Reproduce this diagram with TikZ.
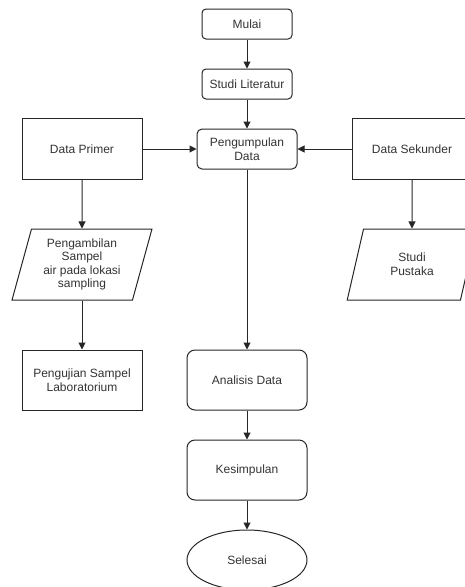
\documentclass[tikz,border=0pt]{standalone}
\usepackage{fontspec}
\setmainfont{Liberation Sans}
\usetikzlibrary{arrows.meta,shapes.geometric}
\begin{document}
\begin{tikzpicture}[x=1pt,y=-1pt,
  every node/.style={font=\fontsize{12}{14.4}\selectfont, text=black!80, align=center, draw=black!85, line width=1pt, inner sep=2pt},
  smallbox/.style={rounded corners=4pt, minimum width=90pt, minimum height=30pt},
  bigbox/.style={rounded corners=8pt, minimum width=120pt, minimum height=60pt},
  databox/.style={minimum width=120pt, minimum height=61pt},
  iobox/.style={trapezium, trapezium left angle=75, trapezium right angle=105, trapezium stretches, minimum width=140pt, minimum height=71pt, inner xsep=0pt},
  arr/.style={-{Triangle[length=7pt,width=7pt]}, line width=1pt, draw=black!85}]
\useasboundingbox (0,0) rectangle (465,587);
% main column
\node [smallbox] (mulai) at (247,24) {Mulai};
\node [smallbox] (studi) at (247,84) {Studi Literatur};
\node [smallbox, minimum width=100pt, minimum height=40pt, rounded corners=5pt] (kumpul) at (247,149) {Pengumpulan\\Data};
\node [bigbox] (analisis) at (247,380) {Analisis Data};
\node [bigbox] (simpul) at (247,470) {Kesimpulan};
\node [ellipse, minimum width=120pt, minimum height=60pt] (selesai) at (247,560) {Selesai};
% left and right columns
\node [databox] (primer) at (82,149) {Data Primer};
\node [databox] (sekunder) at (412,149) {Data Sekunder};
\node [iobox, font=\fontsize{12}{13.5}\selectfont] (ambil) at (82,264.5) {Pengambilan\\Sampel\\air pada lokasi\\sampling};
\node [iobox, minimum width=130pt] (pustaka) at (412,264.5) {Studi\\Pustaka};
\node [databox, minimum height=60pt] (uji) at (82,380) {Pengujian Sampel\\Laboratorium};
% arrows
\draw [arr] (mulai) -- (studi);
\draw [arr] (studi) -- (kumpul);
\draw [arr] (primer) -- (kumpul);
\draw [arr] (sekunder) -- (kumpul);
\draw [arr] (kumpul) -- (analisis);
\draw [arr] (analisis) -- (simpul);
\draw [arr] (simpul) -- (selesai);
\draw [arr] (primer) -- (ambil);
\draw [arr] (ambil) -- (uji);
\draw [arr] (sekunder) -- (pustaka);
\end{tikzpicture}
\end{document}
